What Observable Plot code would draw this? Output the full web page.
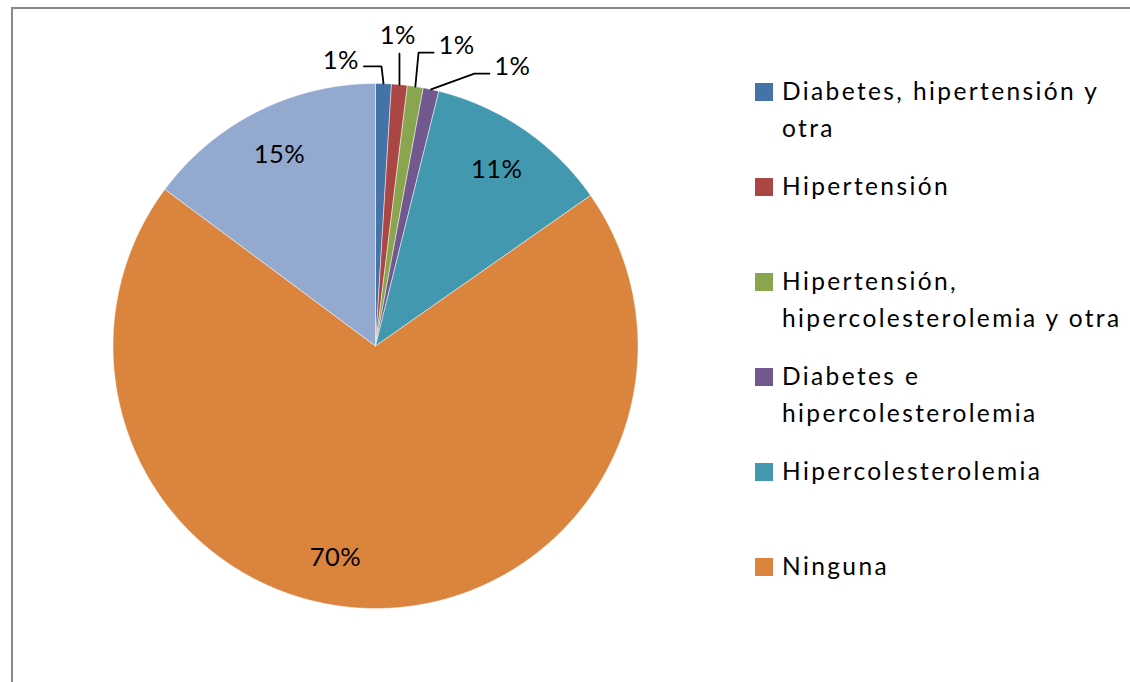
<!DOCTYPE html>
<html>
<head>
<meta charset="utf-8">
<script src="https://cdn.jsdelivr.net/npm/d3@7"></script>
<script src="https://cdn.jsdelivr.net/npm/@observablehq/plot@0.6"></script>
<style>
  html, body { margin: 0; padding: 0; background: #fff; overflow: hidden; }
  #wrap { position: relative; width: 1130px; height: 682px; overflow: hidden; }
  #frame { position: absolute; left: 11px; top: 7px; width: 1300px; height: 900px;
           border-left: 2px solid #888; border-top: 2px solid #888; box-sizing: border-box; }
  #chart { position: absolute; left: 0; top: 0; }
  .item { position: absolute; left: 755px; height: 95px; }
  .sw { position: absolute; left: 0; width: 18px; height: 18px; }
  .txt { position: absolute; left: 27px; width: 345px; color: #000; white-space: normal; }
</style>
</head>
<body>
<div id="wrap">
  <div id="frame"></div>
  <div id="chart"></div>
  <div id="legend"></div>
</div>
<script>
// ---- data ----
const categories = [
  "Diabetes, hipertensión y otra",
  "Hipertensión",
  "Hipertensión, hipercolesterolemia y otra",
  "Diabetes e hipercolesterolemia",
  "Hipercolesterolemia",
  "Ninguna",
  "Otras"
];
const values = [0.97, 0.97, 0.97, 0.97, 11.4, 69.9, 14.82];
const colors = ["#4572A7", "#AA4643", "#89A54E", "#71588F", "#4198AF", "#DB843D", "#93A9CF"];
const legendCount = 6; // the legend of the original shows only the first six entries

// ---- layout ----
const W = 1130, H = 682;
const CX = 375, CY = 345.5, R = 262.5;
const FONT = "Lato";
const LABEL_SIZE = 25.5, LEGEND_SIZE = 24.5;
const LINE_H = 36.5, ITEM_H = 95, LEGEND_FIRST_CENTER = 91.5;

const canvas = document.createElement("canvas");
const ctx = canvas.getContext("2d");
function spacingFor(text, size, target) {
  ctx.font = `${size}px ${FONT}`;
  const w = ctx.measureText(text).width;
  return (target - w) / Math.max(1, text.length - 1);
}
const labelSpacing = spacingFor("15%", LABEL_SIZE, 51);
const legendSpacing = spacingFor("Hipercolesterolemia", LEGEND_SIZE, 258);

const total = d3.sum(values);
const arcs = d3.pie().sort(null).value(d => d)(values);
const slices = arcs.map((a, i) => ({
  name: categories[i], value: values[i], a0: a.startAngle, a1: a.endAngle,
  mid: (a.startAngle + a.endAngle) / 2,
  label: Math.round(values[i] / total * 100) + "%"
}));

// polygon points in unit coordinates (x = sin, y = cos; clockwise from 12 o'clock)
const slicePts = [];
for (const s of slices) {
  slicePts.push({name: s.name, x: 0, y: 0});
  const n = Math.max(2, Math.ceil((s.a1 - s.a0) / (Math.PI / 720)));
  for (let k = 0; k <= n; k++) {
    const a = s.a0 + (s.a1 - s.a0) * k / n;
    slicePts.push({name: s.name, x: Math.sin(a), y: Math.cos(a)});
  }
  slicePts.push({name: s.name, x: 0, y: 0});
}

const toU = px => (px - CX) / R;
const toV = py => (CY - py) / R;

// inside labels
const inside = slices.filter(s => s.value >= 5).map(s => ({
  name: s.name, text: s.label, x: 0.815 * Math.sin(s.mid), y: 0.815 * Math.cos(s.mid)
}));

// outside labels with leader lines (fanned out)
const small = slices.filter(s => s.value < 5);
const outside = [];
const leaders = [];
small.forEach((s, i) => {
  const midDeg = s.mid * 180 / Math.PI;
  const labDeg = -12.4 + 3.15 * midDeg;
  const r = i === 0 ? 1.096 : 1.185;
  const la = labDeg * Math.PI / 180;
  const L = {x: CX + R * r * Math.sin(la), y: CY - R * r * Math.cos(la)};
  const P = {x: CX + R * Math.sin(s.mid), y: CY - R * Math.cos(s.mid)};
  outside.push({name: s.name, text: s.label, x: toU(L.x), y: toV(L.y)});
  let pts;
  if (L.x > P.x + 25) {
    const ax = L.x - 23, ay = L.y + 7;
    pts = [[ax, ay], [ax - 15, ay], [P.x, P.y]];
  } else if (L.x < P.x - 25) {
    const ax = L.x + 23, ay = L.y + 6;
    pts = [[ax, ay], [P.x - 2, ay], [P.x, P.y]];
  } else {
    pts = [[P.x, L.y + 18], [P.x, P.y]];
  }
  pts.forEach(p => leaders.push({name: s.name, x: toU(p[0]), y: toV(p[1])}));
});

const plot = Plot.plot({
  width: W, height: H,
  marginLeft: CX - R, marginRight: W - (CX + R),
  marginTop: CY - R, marginBottom: H - (CY + R),
  x: {domain: [-1, 1], axis: null},
  y: {domain: [-1, 1], axis: null},
  color: {domain: categories, range: colors},
  style: {background: "transparent", overflow: "visible"},
  marks: [
    Plot.line(slicePts, {x: "x", y: "y", z: "name", fill: "name", stroke: "white", strokeWidth: 0.8, strokeOpacity: 0.6, curve: "linear"}),
    Plot.line(leaders, {x: "x", y: "y", z: "name", stroke: "black", strokeWidth: 1.8, strokeLinejoin: "miter"}),
    Plot.text(inside.filter(d => d.name !== "Ninguna"), {x: "x", y: "y", text: "text", fill: "black", fontSize: LABEL_SIZE, fontFamily: FONT}),
    Plot.text(inside.filter(d => d.name === "Ninguna"), {x: "x", y: "y", text: "text", fill: "black", fontSize: LABEL_SIZE, fontFamily: FONT, dx: -37, dy: -2}),
    Plot.text(outside, {x: "x", y: "y", text: "text", fill: "black", fontSize: LABEL_SIZE, fontFamily: FONT})
  ]
});
plot.querySelectorAll("text").forEach(t => t.style.letterSpacing = labelSpacing + "px");
document.getElementById("chart").appendChild(plot);

// legend
const legend = document.getElementById("legend");
categories.slice(0, legendCount).forEach((name, i) => {
  const item = document.createElement("div");
  item.className = "item";
  item.style.top = (LEGEND_FIRST_CENTER - LINE_H / 2 + ITEM_H * i) + "px";
  const sw = document.createElement("span");
  sw.className = "sw";
  sw.style.background = colors[i];
  sw.style.top = ((LINE_H - 18) / 2) + "px";
  const txt = document.createElement("div");
  txt.className = "txt";
  txt.textContent = name;
  txt.style.font = `${LEGEND_SIZE}px ${FONT}`;
  txt.style.lineHeight = LINE_H + "px";
  txt.style.letterSpacing = legendSpacing + "px";
  item.appendChild(sw);
  item.appendChild(txt);
  legend.appendChild(item);
});
</script>
</body>
</html>
